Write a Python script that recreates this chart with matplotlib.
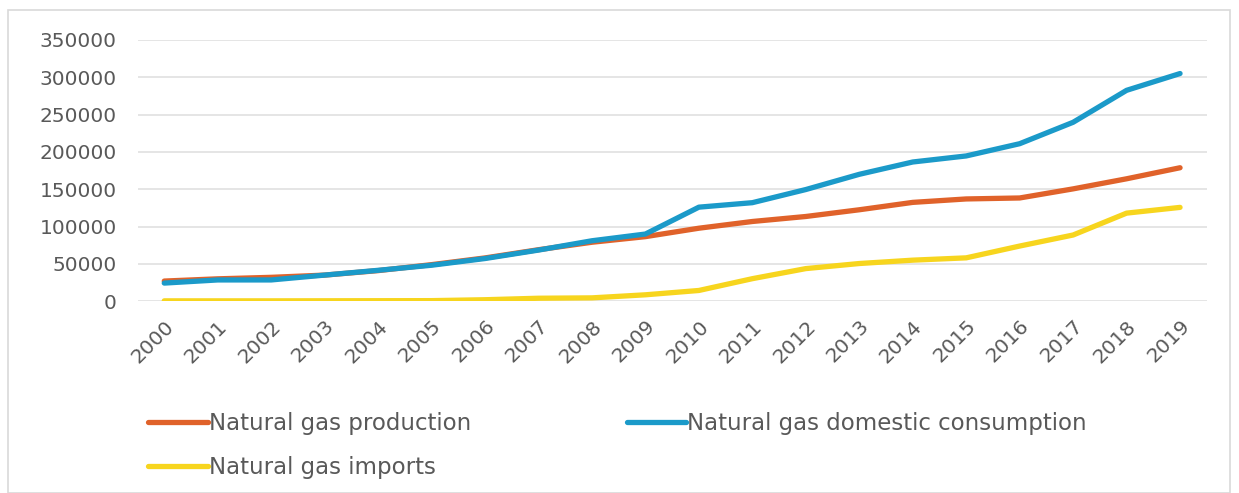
import matplotlib.pyplot as plt
from matplotlib.patches import Rectangle

years = [str(y) for y in range(2000, 2020)]
production = [27000, 30000, 32000, 35000, 41000, 49000, 58000, 69000, 79000, 86500,
              97800, 106800, 113500, 122500, 132400, 137000, 138300, 150500, 164000, 178800]
consumption = [24300, 28500, 28500, 35000, 41400, 48200, 57200, 68500, 81000, 90000,
               126000, 132000, 149600, 170000, 186500, 194600, 211000, 239700, 282500, 305000]
imports = [500, 500, 500, 600, 700, 800, 2000, 4000, 4500, 8600,
           14400, 30200, 43700, 50500, 55000, 58100, 73900, 88700, 118000, 125700]

series_names = ["Natural gas production", "Natural gas domestic consumption", "Natural gas imports"]
colors = ["#E0622A", "#1B9AC9", "#F7D51E"]

text_color = "#595959"
plt.rcParams['font.family'] = ['DejaVu Sans']

fig = plt.figure(figsize=(12.39, 4.93), dpi=100)
ax = fig.add_axes([0.111, 0.389, 0.863, 0.530])

x = range(len(years))
lines = []
for vals, name, c in zip([production, consumption, imports], series_names, colors):
    ln, = ax.plot(x, vals, color=c, lw=3.8, label=name, solid_capstyle='round', solid_joinstyle='round')
    lines.append(ln)
# consumption sits on top of production
lines[1].set_zorder(3)
lines[0].set_zorder(2)

ax.set_xlim(-0.5, len(years) - 0.5)
ax.set_ylim(0, 350000)
ax.set_yticks(range(0, 350001, 50000))
ax.set_yticklabels([str(v) for v in range(0, 350001, 50000)], fontsize=14.5, color=text_color)
ax.set_xticks(list(x))
ax.set_xticklabels(years, rotation=45, ha='right', rotation_mode='anchor', fontsize=14.5, color=text_color)
ax.tick_params(axis='both', length=0)
ax.tick_params(axis='y', pad=15)
ax.tick_params(axis='x', pad=11)
ax.grid(axis='y', color='#E0E0E0', lw=1.2)
ax.set_axisbelow(True)
for s in ax.spines.values():
    s.set_visible(False)

# column-wise fill: prod, imports | consumption
fig.legend(handles=[lines[0], lines[2], lines[1]], loc='upper left', bbox_to_anchor=(0.112, 0.183), ncol=2,
           frameon=False, fontsize=16.5, labelcolor=text_color, handlelength=2.6,
           handletextpad=0.05, columnspacing=6.8, labelspacing=0.9, borderaxespad=0)

fig.patches.append(Rectangle((8 / 1239, 0), 1222 / 1239, 1 - 10 / 493, transform=fig.transFigure,
                             fill=False, edgecolor='#D9D9D9', lw=1.2))

fig.savefig("out.png", dpi=100)
